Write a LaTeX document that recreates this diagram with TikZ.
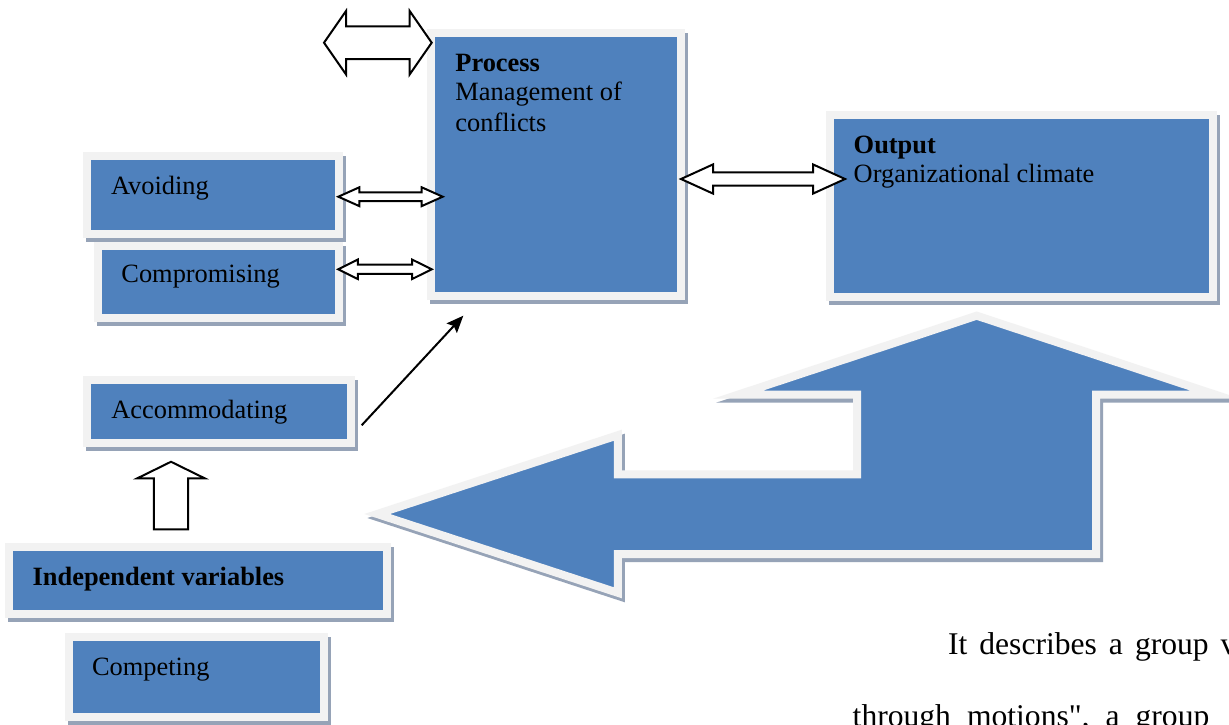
\documentclass[tikz,border=0pt]{standalone}
\usepackage{fontspec}
\setmainfont{Liberation Serif}[Ligatures=TeXOff]
\usetikzlibrary{arrows.meta, positioning, calc}
\definecolor{BoxBlue}{RGB}{79, 129, 189}
\definecolor{FrameGray}{RGB}{242, 242, 242}
\definecolor{ShadowGray}{RGB}{150, 163, 183}
\newcommand{\boxfont}{\fontsize{13.2pt}{15.5pt}\selectfont}
\newcommand{\bodyfont}{\fontsize{15.8pt}{19pt}\selectfont}
% hollow double block arrow: #1 left tip, #2 right tip, #3 shaft half, #4 head half, #5 head length
\newcommand{\dblblock}[5]{%
  \draw[blockline] let \p1=(#1), \p2=(#2) in
    (\x1,\y1) -- (\x1+#5,\y1+#4) -- (\x1+#5,\y1+#3) -- (\x2-#5,\y1+#3)
    -- (\x2-#5,\y1+#4) -- (\x2,\y1) -- (\x2-#5,\y1-#4) -- (\x2-#5,\y1-#3)
    -- (\x1+#5,\y1-#3) -- (\x1+#5,\y1-#4) -- cycle;}

\begin{document}
\begin{tikzpicture}[x=0.5pt, y=-0.5pt,
    varbox/.style={fill=BoxBlue, draw=FrameGray, line width=4pt, inner sep=0pt, outer sep=0pt,
      preaction={draw=ShadowGray, fill=ShadowGray, line width=4pt,
        transform canvas={xshift=1.5pt, yshift=-2pt}}},
    bigframe/.style={fill=BoxBlue, draw=FrameGray, line width=4pt, line join=miter},
    lbl/.style={font=\boxfont, inner sep=0pt, anchor=base west},
    blockline/.style={draw=black, fill=white, line width=1pt, line join=miter}]
  \fill[white] (0,0) rectangle (1229,724);
  \useasboundingbox (0,0) rectangle (1229,724);
  \clip (0,0) rectangle (1229,724);

  % Boxes
  \node[varbox, minimum width=125pt, minimum height=131.5pt] (process) at (556,164.5) {};
  \node[varbox, minimum width=191.5pt, minimum height=90.75pt] (output) at (1021.5,206.2) {};
  \node[varbox, minimum width=126pt, minimum height=39pt] (avoiding) at (213,194.5) {};
  \node[varbox, minimum width=120.25pt, minimum height=36.25pt] (compromising) at (218.7,282.2) {};
  \node[varbox, minimum width=132.15pt, minimum height=31.9pt] (accommodating) at (218.8,411.4) {};
  \node[varbox, minimum width=189pt, minimum height=33.65pt] (indep) at (198,580.7) {};
  \node[varbox, minimum width=127.5pt, minimum height=39.85pt] (competing) at (196.5,676.8) {};

  % Box texts
  \node[lbl] (processtit) at (455,71) {\textbf{Process}};
  \node[lbl] (processl1) at (455,100.5) {Management of};
  \node[lbl] (processl2) at (455,131.5) {conflicts};
  \node[lbl] (outputtit) at (853.3,153.3) {\textbf{Output}};
  \node[lbl] (outputl1) at (853.3,182.7) {Organizational climate};
  \node[lbl] (avoidingtxt) at (110.7,194) {Avoiding};
  \node[lbl] (compromisingtxt) at (121,282.7) {Compromising};
  \node[lbl] (accommodatingtxt) at (111,418) {Accommodating};
  \node[lbl] (indeptxt) at (32.3,585.7) {\textbf{Independent variables}};
  \node[lbl] (competingtxt) at (91.7,675) {Competing};

  % Bent block arrow (feedback)
  \draw[bigframe, preaction={draw=ShadowGray, fill=ShadowGray, line width=4pt,
      transform canvas={xshift=1.5pt, yshift=-2pt}}]
    (976.7,315.7) -- (1215.5,394.7) -- (1096.2,394.7) -- (1096.2,554)
    -- (617.9,554) -- (617.9,592.8) -- (377.2,514) -- (617.9,435.2)
    -- (617.9,474.3) -- (857.1,474.3) -- (857.1,394.7) -- (737.9,394.7) -- cycle;

  % Double block arrows
  \coordinate (freeend) at (324,42.7);
  \dblblock{freeend}{$(process.north west)+(0.7,9.7)$}{8.15pt}{15.85pt}{11pt}
  \dblblock{$(avoiding.east)+(-0.7,2.2)$}{$(process.west |- avoiding.east)+(11.7,2.2)$}{2.2pt}{4.7pt}{10.5pt}
  \dblblock{$(compromising.east)+(-0.7,-12.9)$}{$(process.west |- compromising.east)+(0.7,-12.9)$}{2.3pt}{4.85pt}{9.75pt}
  \dblblock{$(process.east)+(0,14.5)$}{$(output.west |- process.east)+(15,14.5)$}{3.35pt}{7.3pt}{16pt}

  % Up block arrow
  \draw[blockline] ($(indep.north west)+(162,-17.7)$) ++(-17.2,0) -- ++(0,-51) -- ++(-16.6,0)
    -- ++(33.8,-16.6) -- ++(33.8,16.6) -- ++(-16.6,0) -- ++(0,51) -- cycle;

  % Accommodating to process
  \draw[line width=1pt, -{Stealth[length=8.5pt, width=7pt, inset=1.5pt]}]
    ($(accommodating.east)+(10.7,13.9)$) -- ($(process.south west)+(32.3,19.7)$);

  % Body text below
  \node[inner sep=0pt, anchor=base west, font=\bodyfont] (bodyl1) at (947.7,654.3)
    {\spaceskip=6pt It describes a group v};
  \node[inner sep=0pt, anchor=base west, font=\bodyfont] (bodyl2) at (852.3,726)
    {\spaceskip=8pt through motions", a group};
\end{tikzpicture}
\end{document}
